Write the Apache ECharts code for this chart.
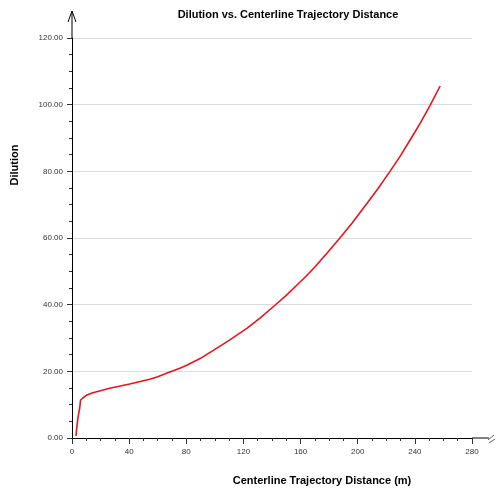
<!DOCTYPE html>
<html>
<head>
<meta charset="utf-8">
<script src="https://cdn.jsdelivr.net/npm/echarts@6/dist/echarts.min.js"></script>
<style>html,body{margin:0;padding:0;background:#fff;}#c{width:496px;height:491px;}</style>
</head>
<body>
<div id="c"></div>
<script>
const distance = [2.8, 3.3, 4.3, 5.4, 6.0, 7.6, 10.0, 14.6, 20.0, 26.4, 33.0, 40.4, 47.0, 54.5, 60.0, 66.2, 75.5, 80.3, 90.0, 98.9, 110.0, 122.4, 132.0, 142.3, 150.0, 157.5, 164.0, 170.0, 178.0, 186.8, 196.0, 206.7, 214.0, 222.6, 230.0, 237.1, 244.0, 250.7, 257.7];
const dilution = [0.6, 3.0, 6.4, 9.0, 11.4, 12.0, 12.8, 13.6, 14.2, 14.9, 15.5, 16.2, 16.9, 17.6, 18.4, 19.4, 20.9, 21.8, 23.9, 26.3, 29.3, 32.9, 36.1, 39.9, 42.8, 45.9, 48.6, 51.3, 55.2, 59.6, 64.4, 70.5, 74.7, 80.0, 84.7, 89.7, 94.6, 99.8, 105.6];
const xTicks = [0, 40, 80, 120, 160, 200, 240, 280];
const yTicks = [0, 20, 40, 60, 80, 100, 120];
const titleText = 'Dilution vs. Centerline Trajectory Distance';
const xName = 'Centerline Trajectory Distance (m)';
const yName = 'Dilution';

const chart = echarts.init(document.getElementById('c'), null, {renderer: 'canvas'});
const font = 'Arial, "Liberation Sans", sans-serif';
const option = {
  animation: false,
  backgroundColor: '#fff',
  title: {
    text: titleText, left: 283, top: 4, textAlign: 'center',
    textStyle: {fontFamily: font, fontSize: 11, fontWeight: 'bold', color: '#000'}
  },
  grid: {left: 72, right: 24, top: 38, bottom: 53, containLabel: false, outerBoundsMode: 'none'},
  xAxis: {
    type: 'value', min: xTicks[0], max: xTicks[xTicks.length - 1], interval: 40,
    axisLine: {show: true, lineStyle: {color: '#000', width: 1}},
    axisTick: {show: true, length: 6, lineStyle: {color: '#333'}},
    minorTick: {show: true, splitNumber: 4, length: 3, lineStyle: {color: '#333'}},
    axisLabel: {fontFamily: font, fontSize: 8, color: '#333', margin: 10},
    splitLine: {show: false}
  },
  yAxis: {
    type: 'value', min: yTicks[0], max: yTicks[yTicks.length - 1], interval: 20,
    axisLine: {show: true, lineStyle: {color: '#000', width: 1}},
    axisTick: {show: true, length: 5, lineStyle: {color: '#333'}},
    minorTick: {show: true, splitNumber: 4, length: 3, lineStyle: {color: '#333'}},
    axisLabel: {fontFamily: font, fontSize: 8, color: '#333', margin: 9, formatter: v => v.toFixed(2)},
    splitLine: {show: true, lineStyle: {color: '#dcdcdc', width: 1}}
  },
  series: [{
    type: 'line',
    data: distance.map((x, i) => [x, dilution[i]]),
    showSymbol: false, smooth: false,
    lineStyle: {color: '#e8141b', width: 1.6}
  }]
};
chart.setOption(option);

// axis decorations: y arrow, x break mark, axis names
const o = chart.convertToPixel({gridIndex: 0}, [0, 0]);
const xe = chart.convertToPixel({gridIndex: 0}, [280, 120]);
chart.setOption({
  graphic: [
    {type: 'line', shape: {x1: o[0], y1: xe[1], x2: o[0], y2: 11}, style: {stroke: '#000', lineWidth: 1}},
    {type: 'polyline', shape: {points: [[o[0] - 4, 22], [o[0], 11], [o[0] + 4, 22]]}, style: {stroke: '#000', fill: null, lineWidth: 1}},
    {type: 'line', shape: {x1: xe[0], y1: o[1], x2: 489, y2: o[1]}, style: {stroke: '#000', lineWidth: 1}},
    {type: 'line', shape: {x1: 488, y1: o[1] + 2, x2: 494, y2: o[1] - 3}, style: {stroke: '#666', lineWidth: 1}},
    {type: 'line', shape: {x1: 489, y1: o[1] + 5, x2: 495, y2: o[1] + 1}, style: {stroke: '#666', lineWidth: 1}},
    {type: 'text', x: 322, y: 481, style: {text: xName, font: 'bold 11px ' + font, fill: '#000', textAlign: 'center', textVerticalAlign: 'middle'}},
    {type: 'text', x: 15, y: 165, rotation: Math.PI / 2, style: {text: yName, font: 'bold 11px ' + font, fill: '#000', textAlign: 'center', textVerticalAlign: 'middle'}}
  ]
});
</script>
</body>
</html>
